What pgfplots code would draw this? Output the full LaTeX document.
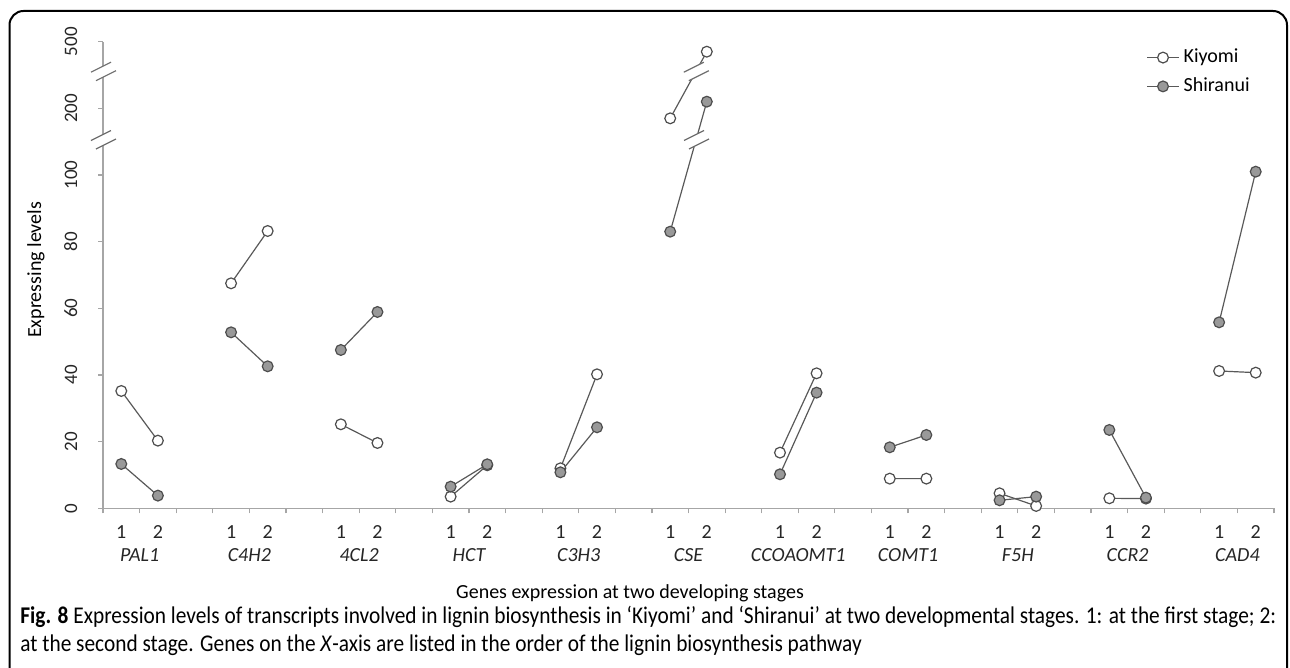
\documentclass[border=0pt]{standalone}
\usepackage{pgfplots}
\pgfplotsset{compat=1.18}
\usepackage{pgfplotstable}
\usepackage{fontspec}
\setmainfont{Carlito}
\newfontfamily\capfont[FakeStretch=0.89]{Carlito}

\definecolor{axisgray}{HTML}{A6A6A6}
\definecolor{linegray}{HTML}{595959}
\definecolor{markedge}{HTML}{4D4D4D}
\definecolor{markfill}{HTML}{999999}
\definecolor{breakgray}{HTML}{6E6E6E}

% x: gene slot (stage 1, stage 2, gap); K = Kiyomi, S = Shiranui.
% Values above 100 are on the compressed upper scale (120 = 200, 140 = 500).
\pgfplotstableread{
x  K      S
1  35.2   13.3
2  20.3   3.8
3  nan    nan
4  67.5   52.8
5  83.2   42.6
6  nan    nan
7  25.2   47.5
8  19.6   58.9
9  nan    nan
10 3.5    6.5
11 12.9   13.2
12 nan    nan
13 12.0   10.8
14 40.2   24.3
15 nan    nan
16 117.0  83.0
17 137.0  122.0
18 nan    nan
19 16.7   10.2
20 40.5   34.7
21 nan    nan
22 8.9    18.3
23 8.9    22.0
24 nan    nan
25 4.5    2.4
26 0.7    3.5
27 nan    nan
28 3.0    23.5
29 2.9    3.2
30 nan    nan
31 41.2   55.8
32 40.7   101.0
}\lignin

% double-slash scale break centred on an axis point
\newcommand\scalebreak[2]{%
  \fill[white] (axis cs:#1,#2) ++(-6pt,-0.25pt) -- ++(10pt,5pt) -- ++(2.5pt,-4.25pt) -- ++(-10pt,-5pt) -- cycle;
  \draw[breakgray, line width=0.6pt] (axis cs:#1,#2) ++(-6pt,-0.25pt) -- ++(10pt,5pt)
        (axis cs:#1,#2) ++(-3.5pt,-4.5pt) -- ++(10pt,5pt);
}

\begin{document}
\begin{tikzpicture}[x=1pt,y=1pt]
\path[use as bounding box] (0,0) rectangle (645,334);
\draw[line width=1pt, rounded corners=7pt] (4.75,-6) -- (4.75,328.5) -- (643.5,328.5) -- (643.5,-6);

\begin{axis}[
  at={(51.5pt,79.85pt)}, anchor=south west,
  scale only axis, width=585.5pt, height=233.3pt,
  xmin=0.5, xmax=32.5, ymin=0, ymax=140,
  axis lines*=left,
  axis line style={axisgray, line width=0.6pt},
  tick style={axisgray, line width=0.6pt},
  tick align=outside,
  major tick length=2.5pt, minor tick length=2.5pt,
  xtick={1,2,4,5,7,8,10,11,13,14,16,17,19,20,22,23,25,26,28,29,31,32},
  xticklabels={1,2,1,2,1,2,1,2,1,2,1,2,1,2,1,2,1,2,1,2,1,2},
  every major x tick/.append style={draw=none},
  minor xtick={0.5,1.5,...,32.5},
  extra x ticks={1.5,4.5,7.5,10.5,13.5,16.5,19.5,22.5,25.5,28.5,31.5},
  extra x tick labels={PAL1,C4H2,4CL2,HCT,C3H3,CSE,CCOAOMT1,COMT1,F5H,CCR2,CAD4},
  extra x tick style={xticklabel style={yshift=-11.5pt, font=\fontsize{10}{12}\selectfont\itshape}},
  xticklabel style={anchor=base, yshift=-12.5pt, font=\fontsize{10}{12}\selectfont, text=black!85},
  ytick={0,20,...,140},
  yticklabels={0,20,40,60,80,100,200,500},
  yticklabel shift=6.8pt,
  yticklabel style={rotate=90, anchor=south, font=\fontsize{9.5}{11.4}\selectfont, text=black!85},
  ylabel={Expressing levels},
  ylabel style={at={(axis description cs:-0.0572,0.511)}, rotate=0, anchor=center, font=\fontsize{10}{12}\selectfont},
  unbounded coords=jump,
  clip=false,
  legend style={draw=none, fill=none, inner sep=0pt, at={(axis description cs:0.8907,0.935)}, anchor=west,
                font=\fontsize{10}{12}\selectfont, row sep=2pt},
  legend cell align=left,
  legend image code/.code={\draw[mark repeat=2, mark phase=2] plot coordinates {(0pt,0pt) (8pt,0pt) (16pt,0pt)};},
  kiy/.style={linegray, line width=0.6pt, mark=*, mark size=2.7pt, mark options={fill=white, draw=markedge, line width=0.6pt}},
  shi/.style={linegray, line width=0.6pt, mark=*, mark size=2.7pt, mark options={fill=markfill, draw=markedge, line width=0.6pt}},
]
\addplot[kiy] table[x=x, y=K] {\lignin};
\addlegendentry{Kiyomi}
\addplot[shi] table[x=x, y=S] {\lignin};
\addlegendentry{Shiranui}

% breaks of the value axis
\scalebreak{0.5}{110.5}
\scalebreak{0.5}{131}
% breaks on the CSE lines that cross them
\scalebreak{16.7}{131}
\scalebreak{16.705}{110.5}
\end{axis}

\node[anchor=center, font=\fontsize{10}{12}\selectfont] at (315,37.5) {Genes expression at two developing stages};
\node[anchor=base west, inner sep=0pt, font=\capfont\fontsize{12}{14.4}\selectfont] at (10,22)
  {\textbf{Fig. 8} Expression levels of transcripts involved in lignin biosynthesis in ‘Kiyomi’ and ‘Shiranui’ at two developmental stages. 1: at the first stage; 2:};
\node[anchor=base west, inner sep=0pt, font=\capfont\fontsize{12}{14.4}\selectfont] at (10,8)
  {at the second stage. Genes on the \textit{X}-axis are listed in the order of the lignin biosynthesis pathway};
\end{tikzpicture}
\end{document}
